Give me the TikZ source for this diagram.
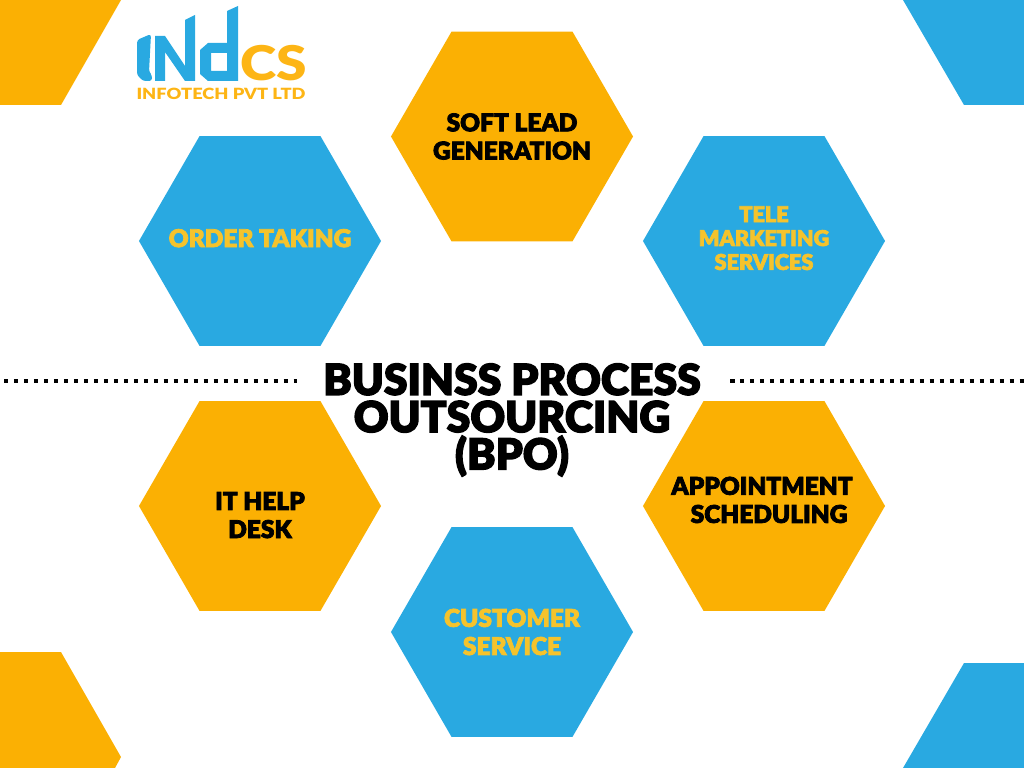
\documentclass[tikz,border=0pt]{standalone}
\usepackage{fontspec}
\setmainfont{Lato Black}[FakeBold=3]
\newfontfamily\logofont{Lato Black}
\usetikzlibrary{shapes.geometric}
\definecolor{hexorange}{HTML}{FBB003}
\definecolor{hexblue}{HTML}{29A9E1}
\definecolor{labelyellow}{HTML}{F5C32C}
\definecolor{logoorange}{HTML}{FDB515}
\begin{document}
\begin{tikzpicture}[x=0.025cm,y=-0.025cm]
  \tikzset{hexcell/.style={regular polygon,
      regular polygon sides=6,
      minimum size=6.05cm,
      inner sep=0pt,
      fill=#1},
    celltext/.style={align=center,
      inner sep=0pt,
      text=#1,
      font=\fontsize{17.4}{20}\selectfont},
    dotline/.style={line width=3.2pt,
      dash pattern=on 3.2pt off 3.9pt}
  }
  \useasboundingbox (0,0) rectangle (1024,768);
  % corners
  \fill [hexorange] (0,0)--(121,0)--(61,105)--(0,105)--cycle;
  \fill [hexblue] (903,0)--(1024,0)--(1024,105)--(964,105)--cycle;
  \fill [hexorange] (0,652)--(61,652)--(121,757)--(115,768)--(0,768)--cycle;
  \fill [hexblue] (964,663)--(1024,663)--(1024,768)--(903,768)--cycle;

  \node [hexcell=hexorange,label={[celltext=black]center:SOFT LEAD\\GENERATION}] (lead) at (512,136.5) {};
  \node [hexcell=hexblue,label={[celltext=labelyellow,yshift=2pt]center:ORDER TAKING}] (order) at (260,241) {};
  \node [hexcell=hexblue,label={[celltext=labelyellow,yshift=2pt,font=\fontsize{15.4}{17}\selectfont]center:TELE\\MARKETING\\SERVICES}] (tele) at (764,241) {};
  \node [hexcell=hexorange,label={[celltext=black,yshift=-6.5pt]center:IT HELP\\DESK}] (help) at (260,506) {};
  \node [hexcell=hexorange,label={[celltext=black,xshift=-1.4pt,yshift=4.3pt]center:APPOINTMENT\\\hspace{10pt}SCHEDULING}] (appt) at (764,506) {};
  \node [hexcell=hexblue,label={[celltext=labelyellow]center:CUSTOMER\\SERVICE}] (cust) at (512,632) {};

  \node [align=center,font=\fontsize{30.4}{26.5}\selectfont] (title) at (512,420) {BUSINSS PROCESS\\OUTSOURCING\\(BPO)};

  \draw [dotline] (4,381)--(297,381);
  \draw [dotline] (730,381)--(1024,381);

  % logo
  \fill [hexblue,rounded corners=2pt] (137,40)--(151,34)--(149,72)--(152,75)--(152,81)--(143,81)--(137,75)--cycle;
  \fill [hexblue] (155,36)--(165,36)--(185,66)--(185,20)--(195,15)--(195,81)--(185,81)--(165,52)--(165,81)--(155,81)--cycle;
  \fill [hexblue,even odd rule] (238,6)--(238,81)--(208,81)--(200,74)--(200,50)--(208,43)--(227,43)--(227,11)--cycle
     (211,53)--(211,71)--(227,71)--(227,53)--cycle;
  \node [text=logoorange,font=\logofont\fontsize{34}{34}\selectfont,inner sep=0pt,xscale=1.15,text depth=0pt,text height=23pt] (logocs) at (273.5,64) {CS};
  \node [text=logoorange,font=\logofont\fontsize{11}{12}\selectfont,inner sep=0pt,xscale=1.18] (logotext) at (221,93.5) {INFOTECH PVT LTD};
\end{tikzpicture}
\end{document}
